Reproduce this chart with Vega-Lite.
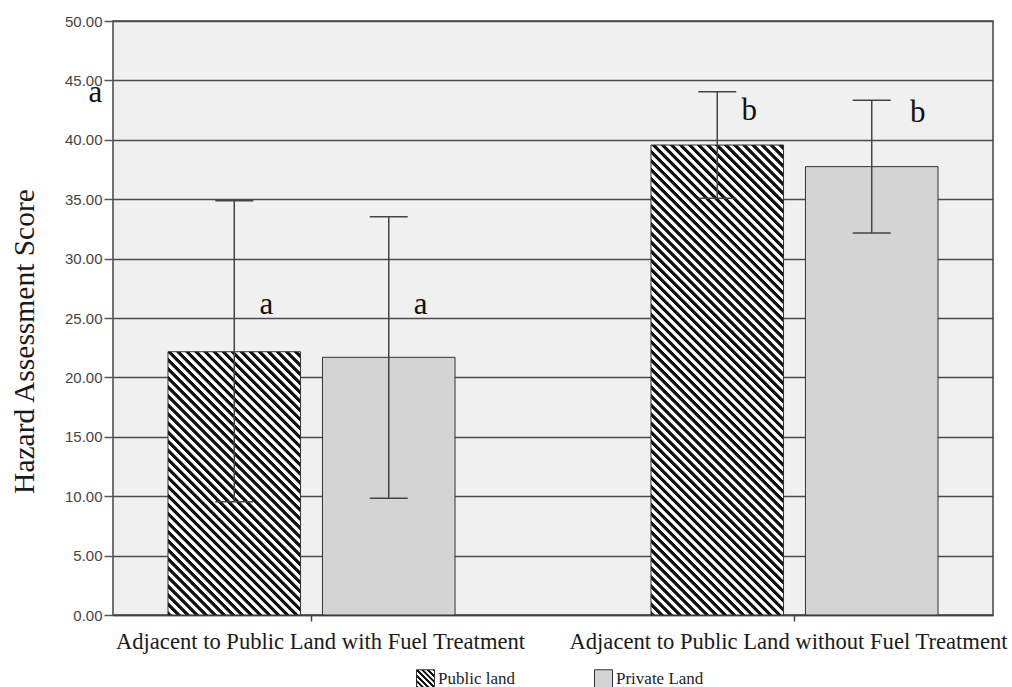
{
  "$schema": "https://vega.github.io/schema/vega-lite/v6.json",
  "width": 880,
  "height": 594,
  "autosize": "none",
  "padding": {"left": 113, "top": 21, "right": 19, "bottom": 72},
  "background": "white",
  "config": {"font": "Liberation Serif", "view": {"fill": "#f0f0f0", "stroke": "#444", "strokeWidth": 1.5}},
  "params": [
    {"name": "hatch", "expr": "[{offset:0,color:'#111'},{offset:0.004,color:'#111'},{offset:0.005,color:'#fff'},{offset:0.009,color:'#fff'},{offset:0.01,color:'#111'},{offset:0.014,color:'#111'},{offset:0.015,color:'#fff'},{offset:0.019,color:'#fff'},{offset:0.02,color:'#111'},{offset:0.024,color:'#111'},{offset:0.025,color:'#fff'},{offset:0.029,color:'#fff'},{offset:0.03,color:'#111'},{offset:0.034,color:'#111'},{offset:0.035,color:'#fff'},{offset:0.039,color:'#fff'},{offset:0.04,color:'#111'},{offset:0.044,color:'#111'},{offset:0.045,color:'#fff'},{offset:0.049,color:'#fff'},{offset:0.05,color:'#111'},{offset:0.054,color:'#111'},{offset:0.055,color:'#fff'},{offset:0.059,color:'#fff'},{offset:0.06,color:'#111'},{offset:0.064,color:'#111'},{offset:0.065,color:'#fff'},{offset:0.069,color:'#fff'},{offset:0.07,color:'#111'},{offset:0.074,color:'#111'},{offset:0.075,color:'#fff'},{offset:0.079,color:'#fff'},{offset:0.08,color:'#111'},{offset:0.084,color:'#111'},{offset:0.085,color:'#fff'},{offset:0.089,color:'#fff'},{offset:0.09,color:'#111'},{offset:0.094,color:'#111'},{offset:0.095,color:'#fff'},{offset:0.099,color:'#fff'},{offset:0.10,color:'#111'},{offset:0.104,color:'#111'},{offset:0.105,color:'#fff'},{offset:0.109,color:'#fff'},{offset:0.11,color:'#111'},{offset:0.114,color:'#111'},{offset:0.115,color:'#fff'},{offset:0.119,color:'#fff'},{offset:0.12,color:'#111'},{offset:0.124,color:'#111'},{offset:0.125,color:'#fff'},{offset:0.129,color:'#fff'},{offset:0.13,color:'#111'},{offset:0.134,color:'#111'},{offset:0.135,color:'#fff'},{offset:0.139,color:'#fff'},{offset:0.14,color:'#111'},{offset:0.144,color:'#111'},{offset:0.145,color:'#fff'},{offset:0.149,color:'#fff'},{offset:0.15,color:'#111'},{offset:0.154,color:'#111'},{offset:0.155,color:'#fff'},{offset:0.159,color:'#fff'},{offset:0.16,color:'#111'},{offset:0.164,color:'#111'},{offset:0.165,color:'#fff'},{offset:0.169,color:'#fff'},{offset:0.17,color:'#111'},{offset:0.174,color:'#111'},{offset:0.175,color:'#fff'},{offset:0.179,color:'#fff'},{offset:0.18,color:'#111'},{offset:0.184,color:'#111'},{offset:0.185,color:'#fff'},{offset:0.189,color:'#fff'},{offset:0.19,color:'#111'},{offset:0.194,color:'#111'},{offset:0.195,color:'#fff'},{offset:0.199,color:'#fff'},{offset:0.20,color:'#111'},{offset:0.204,color:'#111'},{offset:0.205,color:'#fff'},{offset:0.209,color:'#fff'},{offset:0.21,color:'#111'},{offset:0.214,color:'#111'},{offset:0.215,color:'#fff'},{offset:0.219,color:'#fff'},{offset:0.22,color:'#111'},{offset:0.224,color:'#111'},{offset:0.225,color:'#fff'},{offset:0.229,color:'#fff'},{offset:0.23,color:'#111'},{offset:0.234,color:'#111'},{offset:0.235,color:'#fff'},{offset:0.239,color:'#fff'},{offset:0.24,color:'#111'},{offset:0.244,color:'#111'},{offset:0.245,color:'#fff'},{offset:0.249,color:'#fff'},{offset:0.25,color:'#111'},{offset:0.254,color:'#111'},{offset:0.255,color:'#fff'},{offset:0.259,color:'#fff'},{offset:0.26,color:'#111'},{offset:0.264,color:'#111'},{offset:0.265,color:'#fff'},{offset:0.269,color:'#fff'},{offset:0.27,color:'#111'},{offset:0.274,color:'#111'},{offset:0.275,color:'#fff'},{offset:0.279,color:'#fff'},{offset:0.28,color:'#111'},{offset:0.284,color:'#111'},{offset:0.285,color:'#fff'},{offset:0.289,color:'#fff'},{offset:0.29,color:'#111'},{offset:0.294,color:'#111'},{offset:0.295,color:'#fff'},{offset:0.299,color:'#fff'},{offset:0.30,color:'#111'},{offset:0.304,color:'#111'},{offset:0.305,color:'#fff'},{offset:0.309,color:'#fff'},{offset:0.31,color:'#111'},{offset:0.314,color:'#111'},{offset:0.315,color:'#fff'},{offset:0.319,color:'#fff'},{offset:0.32,color:'#111'},{offset:0.324,color:'#111'},{offset:0.325,color:'#fff'},{offset:0.329,color:'#fff'},{offset:0.33,color:'#111'},{offset:0.334,color:'#111'},{offset:0.335,color:'#fff'},{offset:0.339,color:'#fff'},{offset:0.34,color:'#111'},{offset:0.344,color:'#111'},{offset:0.345,color:'#fff'},{offset:0.349,color:'#fff'},{offset:0.35,color:'#111'},{offset:0.354,color:'#111'},{offset:0.355,color:'#fff'},{offset:0.359,color:'#fff'},{offset:0.36,color:'#111'},{offset:0.364,color:'#111'},{offset:0.365,color:'#fff'},{offset:0.369,color:'#fff'},{offset:0.37,color:'#111'},{offset:0.374,color:'#111'},{offset:0.375,color:'#fff'},{offset:0.379,color:'#fff'},{offset:0.38,color:'#111'},{offset:0.384,color:'#111'},{offset:0.385,color:'#fff'},{offset:0.389,color:'#fff'},{offset:0.39,color:'#111'},{offset:0.394,color:'#111'},{offset:0.395,color:'#fff'},{offset:0.399,color:'#fff'},{offset:0.40,color:'#111'},{offset:0.404,color:'#111'},{offset:0.405,color:'#fff'},{offset:0.409,color:'#fff'},{offset:0.41,color:'#111'},{offset:0.414,color:'#111'},{offset:0.415,color:'#fff'},{offset:0.419,color:'#fff'},{offset:0.42,color:'#111'},{offset:0.424,color:'#111'},{offset:0.425,color:'#fff'},{offset:0.429,color:'#fff'},{offset:0.43,color:'#111'},{offset:0.434,color:'#111'},{offset:0.435,color:'#fff'},{offset:0.439,color:'#fff'},{offset:0.44,color:'#111'},{offset:0.444,color:'#111'},{offset:0.445,color:'#fff'},{offset:0.449,color:'#fff'},{offset:0.45,color:'#111'},{offset:0.454,color:'#111'},{offset:0.455,color:'#fff'},{offset:0.459,color:'#fff'},{offset:0.46,color:'#111'},{offset:0.464,color:'#111'},{offset:0.465,color:'#fff'},{offset:0.469,color:'#fff'},{offset:0.47,color:'#111'},{offset:0.474,color:'#111'},{offset:0.475,color:'#fff'},{offset:0.479,color:'#fff'},{offset:0.48,color:'#111'},{offset:0.484,color:'#111'},{offset:0.485,color:'#fff'},{offset:0.489,color:'#fff'},{offset:0.49,color:'#111'},{offset:0.494,color:'#111'},{offset:0.495,color:'#fff'},{offset:0.499,color:'#fff'},{offset:0.50,color:'#111'},{offset:0.504,color:'#111'},{offset:0.505,color:'#fff'},{offset:0.509,color:'#fff'},{offset:0.51,color:'#111'},{offset:0.514,color:'#111'},{offset:0.515,color:'#fff'},{offset:0.519,color:'#fff'},{offset:0.52,color:'#111'},{offset:0.524,color:'#111'},{offset:0.525,color:'#fff'},{offset:0.529,color:'#fff'},{offset:0.53,color:'#111'},{offset:0.534,color:'#111'},{offset:0.535,color:'#fff'},{offset:0.539,color:'#fff'},{offset:0.54,color:'#111'},{offset:0.544,color:'#111'},{offset:0.545,color:'#fff'},{offset:0.549,color:'#fff'},{offset:0.55,color:'#111'},{offset:0.554,color:'#111'},{offset:0.555,color:'#fff'},{offset:0.559,color:'#fff'},{offset:0.56,color:'#111'},{offset:0.564,color:'#111'},{offset:0.565,color:'#fff'},{offset:0.569,color:'#fff'},{offset:0.57,color:'#111'},{offset:0.574,color:'#111'},{offset:0.575,color:'#fff'},{offset:0.579,color:'#fff'},{offset:0.58,color:'#111'},{offset:0.584,color:'#111'},{offset:0.585,color:'#fff'},{offset:0.589,color:'#fff'},{offset:0.59,color:'#111'},{offset:0.594,color:'#111'},{offset:0.595,color:'#fff'},{offset:0.599,color:'#fff'},{offset:0.60,color:'#111'},{offset:0.604,color:'#111'},{offset:0.605,color:'#fff'},{offset:0.609,color:'#fff'},{offset:0.61,color:'#111'},{offset:0.614,color:'#111'},{offset:0.615,color:'#fff'},{offset:0.619,color:'#fff'},{offset:0.62,color:'#111'},{offset:0.624,color:'#111'},{offset:0.625,color:'#fff'},{offset:0.629,color:'#fff'},{offset:0.63,color:'#111'},{offset:0.634,color:'#111'},{offset:0.635,color:'#fff'},{offset:0.639,color:'#fff'},{offset:0.64,color:'#111'},{offset:0.644,color:'#111'},{offset:0.645,color:'#fff'},{offset:0.649,color:'#fff'},{offset:0.65,color:'#111'},{offset:0.654,color:'#111'},{offset:0.655,color:'#fff'},{offset:0.659,color:'#fff'},{offset:0.66,color:'#111'},{offset:0.664,color:'#111'},{offset:0.665,color:'#fff'},{offset:0.669,color:'#fff'},{offset:0.67,color:'#111'},{offset:0.674,color:'#111'},{offset:0.675,color:'#fff'},{offset:0.679,color:'#fff'},{offset:0.68,color:'#111'},{offset:0.684,color:'#111'},{offset:0.685,color:'#fff'},{offset:0.689,color:'#fff'},{offset:0.69,color:'#111'},{offset:0.694,color:'#111'},{offset:0.695,color:'#fff'},{offset:0.699,color:'#fff'},{offset:0.70,color:'#111'}]"}
  ],
  "datasets": {
    "bars": [
      {"cond": "Adjacent to Public Land with Fuel Treatment", "land": "Public land", "mean": 22.16, "lo": 9.54, "hi": 34.87},
      {"cond": "Adjacent to Public Land with Fuel Treatment", "land": "Private Land", "mean": 21.69, "lo": 9.82, "hi": 33.53},
      {"cond": "Adjacent to Public Land without Fuel Treatment", "land": "Public land", "mean": 39.56, "lo": 35.07, "hi": 44.05},
      {"cond": "Adjacent to Public Land without Fuel Treatment", "land": "Private Land", "mean": 37.74, "lo": 32.15, "hi": 43.33}
    ],
    "letters": [
      {"cond": "Adjacent to Public Land with Fuel Treatment", "land": "Public land", "letter": "a", "ly": 25.34},
      {"cond": "Adjacent to Public Land with Fuel Treatment", "land": "Private Land", "letter": "a", "ly": 25.34},
      {"cond": "Adjacent to Public Land without Fuel Treatment", "land": "Public land", "letter": "b", "ly": 41.67},
      {"cond": "Adjacent to Public Land without Fuel Treatment", "land": "Private Land", "letter": "b", "ly": 41.52},
      {"cond": "Adjacent to Public Land with Fuel Treatment", "land": "Public land", "letter": "a", "ly": 43.18}
    ]
  },
  "data": {"name": "bars"},
  "encoding": {
    "x": {
      "field": "cond", "type": "nominal",
      "sort": ["Adjacent to Public Land with Fuel Treatment", "Adjacent to Public Land without Fuel Treatment"],
      "scale": {"paddingInner": 0.178, "paddingOuter": 0},
      "axis": {"title": null, "labelAngle": 0, "labelFont": "Liberation Serif", "labelFontSize": 22.6, "labelColor": "#1a1a1a", "labelLimit": 1000, "labelPadding": 9, "labelOffset": {"condition": {"test": "datum.value === 'Adjacent to Public Land with Fuel Treatment'", "value": 9}, "value": -6}, "tickSize": 6, "tickColor": "#444", "tickWidth": 1.5, "domainColor": "#444", "domainWidth": 1.5}
    },
    "xOffset": {
      "field": "land", "type": "nominal",
      "sort": ["Public land", "Private Land"],
      "scale": {"paddingInner": 0.142, "paddingOuter": 0.356}
    }
  },
  "layer": [
    {
      "transform": [{"filter": "datum.land === 'Public land' && datum.mean < 30"}],
      "mark": {"type": "bar", "stroke": "#333", "strokeWidth": 1, "fill": {"expr": "{gradient:'linear',x1:0,y1:1,x2:1.3806,y2:-1.743,stops:hatch}"}},
      "encoding": {
        "y": {
          "field": "mean", "type": "quantitative",
          "scale": {"domain": [0, 50], "nice": false},
          "axis": {"title": "Hazard Assessment Score", "values": [0, 5, 10, 15, 20, 25, 30, 35, 40, 45, 50], "format": ".2f", "grid": true, "gridColor": "#4a4a4a", "gridWidth": 1.5, "domain": false, "tickSize": 9, "tickColor": "#555", "tickWidth": 1.5, "labelFont": "Liberation Sans", "labelFontSize": 15, "labelColor": "#444", "labelPadding": 2, "titleFont": "Liberation Serif", "titleFontSize": 29.5, "titleFontWeight": "normal", "titleColor": "#1a1a1a", "titleAngle": 270, "titleX": -89, "titleY": 320, "titleAlign": "center", "titleBaseline": "middle"}
        }
      }
    },
    {
      "transform": [{"filter": "datum.land === 'Public land' && datum.mean > 30"}],
      "mark": {"type": "bar", "stroke": "#333", "strokeWidth": 1, "fill": {"expr": "{gradient:'linear',x1:0,y1:1,x2:0.503,y2:-0.784,stops:hatch}"}},
      "encoding": {"y": {"field": "mean", "type": "quantitative"}}
    },
    {
      "transform": [{"filter": "datum.land === 'Private Land'"}],
      "mark": {"type": "bar", "stroke": "#333", "strokeWidth": 1},
      "encoding": {
        "y": {"field": "mean", "type": "quantitative"},
        "fill": {
          "field": "land", "type": "nominal",
          "scale": {"domain": ["Public land", "Private Land"], "range": [{"expr": "{gradient:'linear',x1:0,y1:1,x2:15.7,y2:-14.7,stops:hatch}"}, "#d4d4d4"]},
          "legend": {"title": null, "orient": "none", "legendX": 303, "legendY": 648, "direction": "horizontal", "symbolType": "square", "symbolSize": 324, "symbolStrokeWidth": 1, "symbolStrokeColor": "#333", "symbolOpacity": 1, "labelFont": "Liberation Serif", "labelFontSize": 17, "labelColor": "#222", "labelOffset": 3, "columnPadding": 77, "padding": 0}
        }
      }
    },
    {
      "mark": {"type": "rule", "color": "#444", "strokeWidth": 1.5},
      "encoding": {
        "y": {"field": "lo", "type": "quantitative"},
        "y2": {"field": "hi"}
      }
    },
    {
      "mark": {"type": "tick", "color": "#444", "thickness": 1.5, "size": 38, "opacity": 1, "orient": "horizontal"},
      "encoding": {"y": {"field": "hi", "type": "quantitative"}}
    },
    {
      "mark": {"type": "tick", "color": "#444", "thickness": 1.5, "size": 38, "opacity": 1, "orient": "horizontal"},
      "encoding": {"y": {"field": "lo", "type": "quantitative"}}
    },
    {
      "data": {"name": "letters"},
      "transform": [{"filter": "datum.ly < 42 && !(datum.land === 'Private Land' && datum.letter === 'b')"}],
      "mark": {"type": "text", "font": "Liberation Serif", "fontSize": 31, "baseline": "alphabetic", "align": "center", "dx": 32, "color": "#111"},
      "encoding": {"y": {"field": "ly", "type": "quantitative"}, "text": {"field": "letter"}}
    },
    {
      "data": {"name": "letters"},
      "transform": [{"filter": "datum.land === 'Private Land' && datum.letter === 'b'"}],
      "mark": {"type": "text", "font": "Liberation Serif", "fontSize": 31, "baseline": "alphabetic", "align": "center", "dx": 46, "color": "#111"},
      "encoding": {"y": {"field": "ly", "type": "quantitative"}, "text": {"field": "letter"}}
    },
    {
      "data": {"name": "letters"},
      "transform": [{"filter": "datum.ly > 43"}],
      "mark": {"type": "text", "font": "Liberation Serif", "fontSize": 31, "baseline": "alphabetic", "align": "center", "dx": -139, "color": "#111"},
      "encoding": {"y": {"field": "ly", "type": "quantitative"}, "text": {"field": "letter"}}
    }
  ]
}
